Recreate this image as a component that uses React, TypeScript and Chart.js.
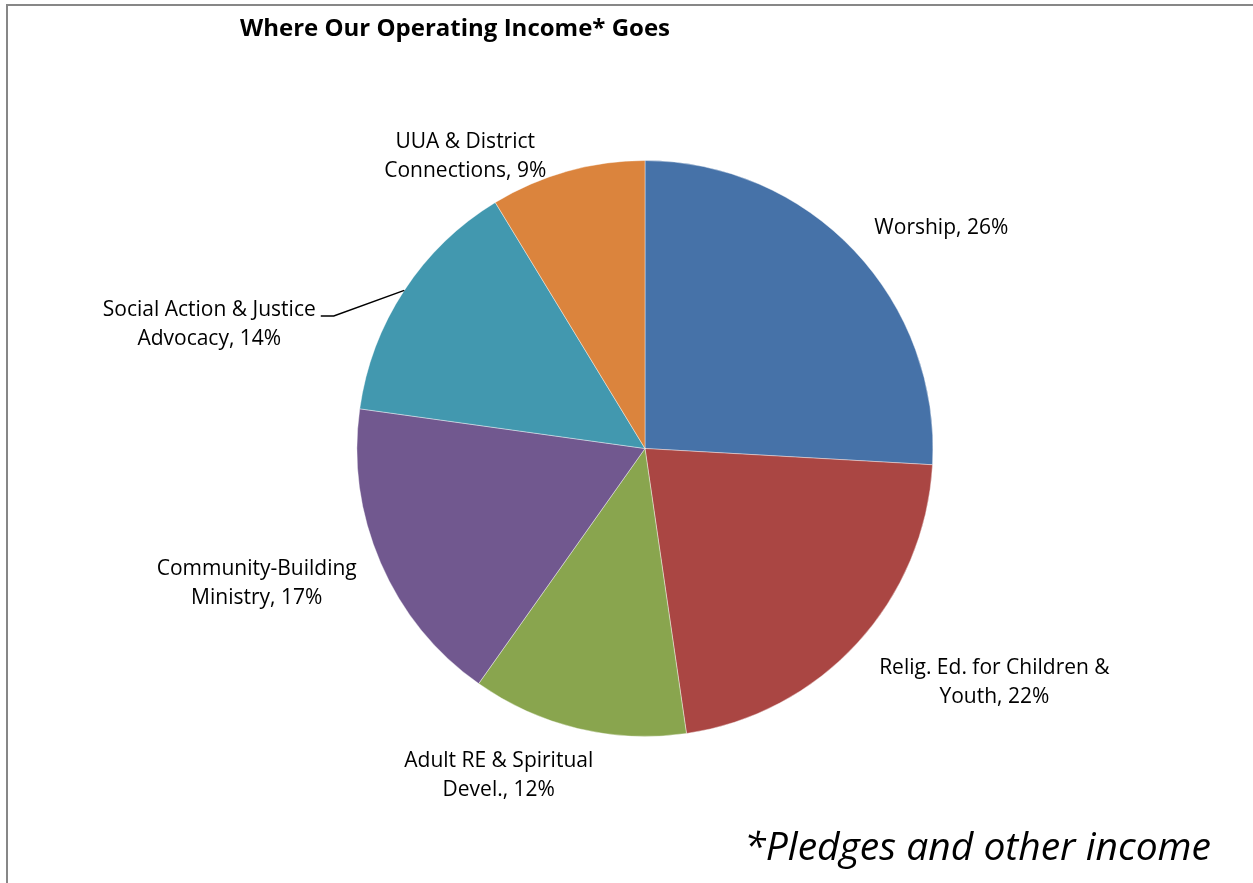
import React, { useEffect, useRef } from "react";
import { Chart, registerables } from "chart.js";

Chart.register(...registerables);

const TITLE = "Where Our Operating Income* Goes";
const FOOTNOTE = "*Pledges and other income";

const categories: string[][] = [
  ["Worship"],
  ["Relig. Ed. for Children &", "Youth"],
  ["Adult RE & Spiritual", "Devel."],
  ["Community-Building", "Ministry"],
  ["Social Action & Justice", "Advocacy"],
  ["UUA & District", "Connections"],
];
const shares: number[] = [25.9, 21.8, 12.1, 17.4, 14.1, 8.7];
const colors: string[] = ["#4672A8", "#AA4643", "#89A54E", "#71588F", "#4298AF", "#DB843D"];

// label placement relative to the slice's outer mid point (style only)
const labelOffsets: [number, number][] = [
  [87, -23],
  [137, 40],
  [-79, 47],
  [-124, 21],
  [-195, 34],
  [-102, -15],
];
const leaderIndex = 4;

const LABEL_FONT = '21px "Open Sans", Lato, sans-serif';
const LINE_H = 29;

const labelPlugin = {
  id: "pieLabels",
  afterDraw(chart: any) {
    const ctx = chart.ctx as CanvasRenderingContext2D;
    const meta = chart.getDatasetMeta(0);
    const data = chart.data.datasets[0].data as number[];
    const total = data.reduce((a, b) => a + b, 0);
    ctx.save();
    meta.data.forEach((arc: any, i: number) => {
      const { x, y, startAngle, endAngle, outerRadius } = arc.getProps(
        ["x", "y", "startAngle", "endAngle", "outerRadius"],
        true
      );
      const mid = (startAngle + endAngle) / 2;
      const ex = x + Math.cos(mid) * outerRadius;
      const ey = y + Math.sin(mid) * outerRadius;
      const [dx, dy] = labelOffsets[i];
      const cx = ex + dx;
      const cy = ey + dy;
      const pct = Math.round((data[i] / total) * 100) + "%";
      const lines = [...categories[i]];
      lines[lines.length - 1] = lines[lines.length - 1] + ", " + pct;
      ctx.font = LABEL_FONT;
      ctx.fillStyle = "#000000";
      ctx.textAlign = "center";
      ctx.textBaseline = "middle";
      const top = cy - ((lines.length - 1) * LINE_H) / 2;
      lines.forEach((ln, k) => ctx.fillText(ln, cx, top + k * LINE_H));
      if (i === leaderIndex) {
        const w = ctx.measureText(lines[0]).width;
        const lx = cx + w / 2 + 5;
        const ly = top + 6;
        ctx.beginPath();
        ctx.strokeStyle = "#000000";
        ctx.lineWidth = 1.5;
        ctx.moveTo(ex, ey);
        ctx.lineTo(lx + 13, ly);
        ctx.lineTo(lx, ly);
        ctx.stroke();
      }
    });
    // title
    ctx.font = 'bold 24px "Open Sans", Lato, sans-serif';
    ctx.textAlign = "center";
    ctx.textBaseline = "middle";
    ctx.fillText(TITLE, 455, 29);
    // footnote
    ctx.font = 'italic 39px "Open Sans", Lato, sans-serif';
    ctx.textAlign = "right";
    ctx.fillText(FOOTNOTE, 1211, 849);
    ctx.restore();
  },
};

export default function App() {
  const ref = useRef<HTMLCanvasElement | null>(null);
  useEffect(() => {
    document.body.style.margin = "0";
    const chart = new Chart(ref.current as HTMLCanvasElement, {
      type: "pie",
      data: {
        labels: categories.map((c) => c.join(" ")),
        datasets: [
          {
            data: shares,
            backgroundColor: colors,
            borderColor: "rgba(255,255,255,0.4)",
            borderWidth: 1,
            hoverOffset: 0,
            offset: 0,
          },
        ],
      },
      options: {
        responsive: false,
        animation: false,
        layout: { padding: { left: 37, right: 0, top: 160, bottom: 146 } },
        plugins: {
          legend: { display: false },
          tooltip: { enabled: false },
          title: { display: false },
        },
      },
      plugins: [labelPlugin],
    });
    return () => chart.destroy();
  }, []);
  return (
    <div style={{ position: "relative", width: 1253, height: 883, overflow: "hidden", background: "#fff" }}>
      <div
        style={{
          position: "absolute",
          left: 6,
          top: 4,
          width: 1300,
          height: 1000,
          border: "2px solid #878787",
          boxSizing: "border-box",
        }}
      />
      <canvas ref={ref} width={1253} height={883} style={{ position: "absolute", left: 0, top: 0 }} />
    </div>
  );
}
